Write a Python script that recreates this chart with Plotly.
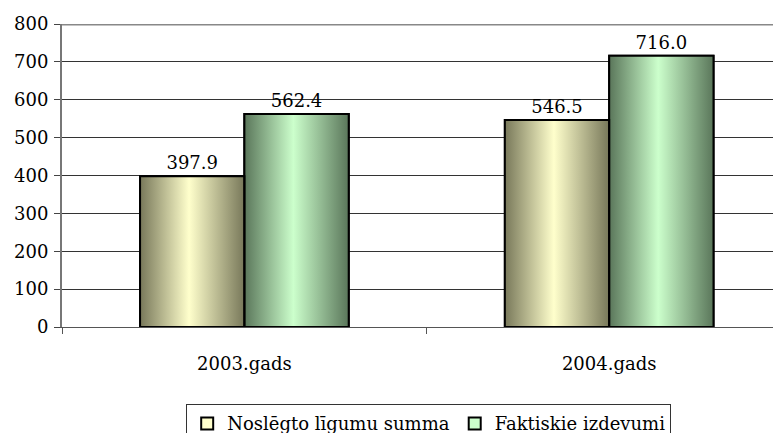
import base64
import plotly.graph_objects as go

categories = ["2003.gads", "2004.gads"]
series_names = ["Noslēgto līgumu summa", "Faktiskie izdevumi"]
contract_sum = [397.9, 546.5]
actual_costs = [562.4, 716.0]
y_ticks = [0, 100, 200, 300, 400, 500, 600, 700, 800]

series_values = [contract_sum, actual_costs]
edge_colors = ["#78785a", "#5a765a"]
peak_colors = ["#ffffcc", "#ccffcc"]

BAR_W = 0.286  # bar width in category units
FONT = "DejaVu Serif"
FS = 18


def gradient_uri(edge, peak):
    svg = (
        '<svg xmlns="http://www.w3.org/2000/svg" width="100" height="100" '
        'viewBox="0 0 1 1" preserveAspectRatio="none">'
        '<defs><linearGradient id="g" x1="0" x2="1" y1="0" y2="0">'
        f'<stop offset="0" stop-color="{edge}"/>'
        f'<stop offset="0.47" stop-color="{peak}"/>'
        f'<stop offset="1" stop-color="{edge}"/>'
        '</linearGradient></defs>'
        '<rect x="0" y="0" width="1" height="1" fill="url(#g)"/></svg>'
    )
    return "data:image/svg+xml;base64," + base64.b64encode(svg.encode()).decode()


fig = go.Figure()
images = []
shapes = []
n = len(series_values)
for i, (name, vals) in enumerate(zip(series_names, series_values)):
    fig.add_trace(go.Bar(
        name=name, x=categories, y=vals,
        marker=dict(color=peak_colors[i], line=dict(color="black", width=2)),
        texttemplate="%{y:.1f}", textposition="outside",
        textfont=dict(family=FONT, size=FS, color="black"),
        cliponaxis=False,
    ))
    uri = gradient_uri(edge_colors[i], peak_colors[i])
    for j, v in enumerate(vals):
        x0 = j + (i - n / 2) * BAR_W
        images.append(dict(
            source=uri, xref="x", yref="y", x=x0, y=v,
            sizex=BAR_W, sizey=v, xanchor="left", yanchor="top",
            sizing="stretch", layer="above",
        ))
        shapes.append(dict(
            type="rect", xref="x", yref="y", x0=x0, x1=x0 + BAR_W, y0=0, y1=v,
            line=dict(color="black", width=2), fillcolor="rgba(0,0,0,0)", layer="above",
        ))

# the page body adds an 8px offset, margins compensate for it
fig.update_layout(
    width=781, height=445,
    margin=dict(l=54, r=8, t=16, b=126),
    paper_bgcolor="white", plot_bgcolor="white",
    barmode="group", bargap=1 - 2 * BAR_W, bargroupgap=0,
    font=dict(family=FONT, size=FS, color="black"),
    images=images, shapes=shapes,
    showlegend=True,
    legend=dict(
        orientation="h", x=0.51, xanchor="center", y=-0.255, yanchor="top",
        bordercolor="#333333", borderwidth=1, bgcolor="white",
        font=dict(family=FONT, size=FS, color="black"),
        itemwidth=30, tracegroupgap=0,
    ),
)
fig.update_xaxes(
    type="category", range=[-0.5, 1.471], automargin=False,
    showline=True, linecolor="#555555", linewidth=1,
    ticks="outside", tickson="boundaries", ticklen=6, tickcolor="#555555",
    showgrid=False, tickfont=dict(family=FONT, size=FS),
    ticklabelstandoff=20,
)
fig.update_yaxes(
    range=[0, 800], tickvals=y_ticks, automargin=False,
    showline=True, linecolor="#777777", linewidth=2,
    ticks="outside", ticklen=6, tickcolor="#444444",
    showgrid=True, gridcolor="#333333", gridwidth=1,
    zeroline=False, tickfont=dict(family=FONT, size=FS),
    ticklabelstandoff=2,
)
# gray top border of the plot area
fig.add_hline(y=800, line=dict(color="#888888", width=3))

fig.write_html("out.html")
